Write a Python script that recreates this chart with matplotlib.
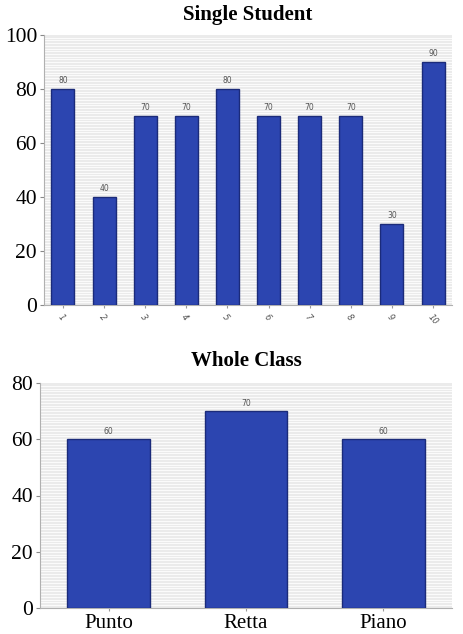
import numpy as np
import matplotlib
matplotlib.use("Agg")
from matplotlib import pyplot as plt

# data
student_labels = ["1", "2", "3", "4", "5", "6", "7", "8", "9", "10"]
student_scores = [80, 40, 70, 70, 80, 70, 70, 70, 30, 90]
class_labels = ["Punto", "Retta", "Piano"]
class_scores = [60, 70, 60]

BAR = "#2c45b0"
EDGE = "#1b2b7a"
BG = "#ebebeb"


def striped(ax, top):
    ax.set_facecolor(BG)
    for y in np.arange(0, top, 1.0):
        ax.axhline(y, color="white", lw=0.6, zorder=0)
    for s in ["top", "right"]:
        ax.spines[s].set_visible(False)
    for s in ["left", "bottom"]:
        ax.spines[s].set_color("#b0b0b0")
    ax.tick_params(axis="y", labelsize=15.5, length=3, color="#888888", pad=2)
    for t in ax.get_yticklabels():
        t.set_fontfamily("Liberation Serif")


fig = plt.figure(figsize=(4.64, 6.34), dpi=100)

# Single Student
ax1 = fig.add_axes([44 / 464, 1 - 305 / 634, 408 / 464, 270 / 634])
x1 = np.arange(len(student_scores))
bars = ax1.bar(x1, student_scores, width=0.56, color=BAR, edgecolor=EDGE, lw=1, zorder=3)
ax1.set_xlim(-0.46, 9.46)
ax1.set_ylim(0, 100)
ax1.set_yticks([0, 20, 40, 60, 80, 100])
striped(ax1, 100)
ax1.set_xticks(x1)
ax1.set_xticklabels(student_labels, rotation=-50, fontsize=6, color="#555555",
                    style="italic", ha="left", rotation_mode="anchor")
ax1.tick_params(axis="x", length=2, color="#999999")
for b, v in zip(bars, student_scores):
    ax1.text(b.get_x() + b.get_width() / 2, v + 1.5, str(v), ha="center", va="bottom",
             fontsize=5.5, color="#555555")
ax1.set_title("Single Student", fontsize=15, fontweight="bold",
              fontfamily="Liberation Serif", pad=11)

# Whole Class
ax2 = fig.add_axes([40 / 464, 1 - 608 / 634, 412 / 464, 225 / 634])
x2 = np.arange(len(class_scores))
bars2 = ax2.bar(x2, class_scores, width=0.6, color=BAR, edgecolor=EDGE, lw=1, zorder=3)
ax2.set_xlim(-0.5, 2.5)
ax2.set_ylim(0, 80)
ax2.set_yticks([0, 20, 40, 60, 80])
striped(ax2, 80)
ax2.set_xticks(x2)
ax2.set_xticklabels(class_labels, fontsize=15, fontfamily="Liberation Serif")
ax2.tick_params(axis="x", length=2, color="#999999", pad=2)
for b, v in zip(bars2, class_scores):
    ax2.text(b.get_x() + b.get_width() / 2, v + 1.2, str(v), ha="center", va="bottom",
             fontsize=5.5, color="#555555")
ax2.set_title("Whole Class", fontsize=15, fontweight="bold",
              fontfamily="Liberation Serif", pad=12)

fig.savefig("out.png", dpi=100)
